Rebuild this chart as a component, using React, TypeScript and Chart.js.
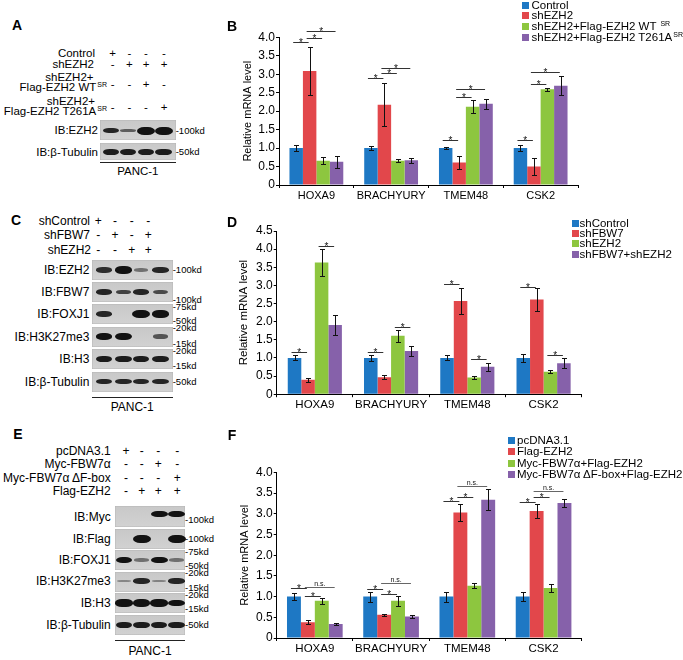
import React, { useEffect, useRef } from 'react';
import { Chart, registerables } from 'chart.js';

Chart.register(...registerables);

const FONT = '"Liberation Sans", Arial, Helvetica, sans-serif';
Chart.defaults.font.family = FONT;

// ---------------- shared ----------------
const GENES = ['HOXA9', 'BRACHYURY', 'TMEM48', 'CSK2'];
const SERIES_COLORS = ['#1e78c4', '#e2474b', '#8dc63f', '#8661aa'];
const Y_TITLE = 'Relative mRNA level';

// ---------------- panel B ----------------
const B_SERIES = ['Control', 'shEZH2', 'shEZH2+Flag-EZH2 WT ', 'shEZH2+Flag-EZH2 T261A'];
const B_SERIES_SUP = ['', '', 'SR', 'SR'];
const B_CONTROL = [1.0, 1.0, 1.0, 1.0];
const B_SHEZH2 = [3.09, 2.17, 0.61, 0.5];
const B_WT = [0.66, 0.66, 2.12, 2.59];
const B_T261A = [0.63, 0.67, 2.2, 2.69];
const B_CONTROL_ERR = [0.09, 0.05, 0.02, 0.09];
const B_SHEZH2_ERR = [0.66, 0.58, 0.18, 0.22];
const B_WT_ERR = [0.1, 0.05, 0.17, 0.05];
const B_T261A_ERR = [0.16, 0.07, 0.13, 0.26];
const B_Y_MAX = 4;
// [gene index, from series, to series, y value, label]
const B_SIG: [number, number, number, number, string][] = [
  [0, 0, 1, 3.86, '*'], [0, 1, 2, 3.98, '*'], [0, 1, 3, 4.17, '*'],
  [1, 0, 1, 2.89, '*'], [1, 1, 2, 3.03, '*'], [1, 1, 3, 3.18, '*'],
  [2, 0, 1, 1.22, '*'], [2, 1, 2, 2.39, '*'], [2, 1, 3, 2.6, '*'],
  [3, 0, 1, 1.22, '*'], [3, 1, 2, 2.74, '*'], [3, 1, 3, 3.05, '*'],
];

// ---------------- panel D ----------------
const D_SERIES = ['shControl', 'shFBW7', 'shEZH2', 'shFBW7+shEZH2'];
const D_SHCONTROL = [1.0, 1.0, 1.0, 1.0];
const D_SHFBW7 = [0.4, 0.47, 2.57, 2.61];
const D_SHEZH2 = [3.63, 1.61, 0.46, 0.62];
const D_COMBO = [1.91, 1.19, 0.76, 0.85];
const D_SHCONTROL_ERR = [0.07, 0.08, 0.07, 0.11];
const D_SHFBW7_ERR = [0.05, 0.05, 0.37, 0.32];
const D_SHEZH2_ERR = [0.37, 0.16, 0.03, 0.04];
const D_COMBO_ERR = [0.27, 0.15, 0.11, 0.14];
const D_Y_MAX = 4.5;
const D_SIG: [number, number, number, number, string][] = [
  [0, 0, 1, 1.15, '*'], [0, 2, 3, 4.09, '*'],
  [1, 0, 1, 1.15, '*'], [1, 2, 3, 1.84, '*'],
  [2, 0, 1, 3.03, '*'], [2, 2, 3, 0.98, '*'],
  [3, 0, 1, 2.96, '*'], [3, 2, 3, 1.07, '*'],
];

// ---------------- panel F ----------------
const F_SERIES = ['pcDNA3.1', 'Flag-EZH2', 'Myc-FBW7α+Flag-EZH2', 'Myc-FBW7α ΔF-box+Flag-EZH2'];
const F_PCDNA = [1.0, 1.0, 1.0, 1.0];
const F_FLAG = [0.38, 0.56, 3.03, 3.07];
const F_MYC = [0.9, 0.9, 1.26, 1.21];
const F_DFBOX = [0.34, 0.52, 3.34, 3.26];
const F_PCDNA_ERR = [0.08, 0.12, 0.12, 0.1];
const F_FLAG_ERR = [0.05, 0.03, 0.2, 0.16];
const F_MYC_ERR = [0.07, 0.12, 0.06, 0.1];
const F_DFBOX_ERR = [0.03, 0.03, 0.26, 0.09];
const F_Y_MAX = 4;
const F_SIG: [number, number, number, number, string][] = [
  [0, 0, 1, 1.2, '*'], [0, 1, 2, 1.01, '*'], [0, 1, 3, 1.24, 'n.s.'],
  [1, 0, 1, 1.18, '*'], [1, 1, 2, 1.06, '*'], [1, 1, 3, 1.33, 'n.s.'],
  [2, 0, 1, 3.32, '*'], [2, 1, 2, 3.41, '*'], [2, 1, 3, 3.68, 'n.s.'],
  [3, 0, 1, 3.29, '*'], [3, 1, 2, 3.4, '*'], [3, 1, 3, 3.54, 'n.s.'],
];

// ---------------- western blots (band intensities per lane) ----------------
const A_EZH2 = [0.6, 0.3, 1.0, 1.0];
const A_TUBULIN = [0.65, 0.65, 0.65, 0.65];

const C_EZH2 = [0.55, 0.9, 0.2, 0.6];
const C_FBW7 = [0.6, 0.45, 0.6, 0.4];
const C_FOXJ1 = [0.6, 0, 1.0, 0.85];
const C_H3K27ME3 = [0.7, 0.9, 0, 0.35];
const C_H3 = [0.65, 0.65, 0.65, 0.65];
const C_TUBULIN = [0.6, 0.6, 0.6, 0.6];

const E_MYC = [0, 0, 0.75, 0.75];
const E_FLAG = [0, 1.0, 0, 1.0];
const E_FOXJ1 = [0.7, 0.2, 0.75, 0.2];
const E_H3K27ME3 = [0.08, 0.6, 0.1, 0.6];
const E_H3 = [0.85, 0.85, 0.85, 0.75];
const E_TUBULIN = [0.65, 0.65, 0.65, 0.65];

// ---------------- helpers ----------------
type Align = 'left' | 'right' | 'center';
function T(props: { x: number; y: number; size?: number; align?: Align; bold?: boolean; children: any }) {
  const { x, y, size = 12, align = 'left', bold = false, children } = props;
  const h = Math.round(size * 1.3);
  const style: any = {
    position: 'absolute', top: y - h / 2, height: h, lineHeight: h + 'px', fontSize: size,
    whiteSpace: 'nowrap', fontWeight: bold ? 'bold' : 'normal', color: '#000',
  };
  if (align === 'left') style.left = x;
  else if (align === 'right') style.right = 683 - x;
  else { style.left = x; style.transform = 'translateX(-50%)'; }
  return <div style={style}>{children}</div>;
}

function Sup({ text }: { text: string }) {
  if (!text) return null;
  return <span style={{ fontSize: 7, position: 'relative', top: -4, marginLeft: 1 }}>{text}</span>;
}

type BlotRow = { label: string; top: number; h: number; y: number; bandY: number; bands: number[]; kd: [string, number][] };
type CondLine = { text: string; sup?: string; right: number; y: number };
type Cond = { lines: CondLine[]; signs: string; signY: number };
type BlotCfg = {
  letter: string; letterX: number; letterY: number;
  conds: Cond[]; signX: number[];
  laneX: number[]; boxL: number; boxR: number; labelR: number;
  rows: BlotRow[]; lineY: number; pancY: number; fs: number;
};

function Blot({ cfg }: { cfg: BlotCfg }) {
  const els: any[] = [];
  els.push(<T key="letter" x={cfg.letterX} y={cfg.letterY} size={14} bold align="center">{cfg.letter}</T>);
  cfg.conds.forEach((c, ci) => {
    c.lines.forEach((l, li) => {
      els.push(
        <T key={`c${ci}-${li}`} x={l.right} y={l.y} size={cfg.fs} align="right">
          {l.text}<Sup text={l.sup || ''} />
        </T>
      );
    });
    c.signs.split('').forEach((s, si) => {
      els.push(<T key={`s${ci}-${si}`} x={cfg.signX[si]} y={c.signY} size={cfg.fs} align="center">{s === '+' ? '+' : '-'}</T>);
    });
  });
  cfg.rows.forEach((r, ri) => {
    els.push(
      <div key={`box${ri}`} style={{
        position: 'absolute', left: cfg.boxL, top: r.top, width: cfg.boxR - cfg.boxL, height: r.h,
        background: 'linear-gradient(#c8c8c8, #d2d2d2)', boxShadow: 'inset 0 0 0 0.5px #b5b5b5',
      }} />
    );
    r.bands.forEach((v, bi) => {
      if (v <= 0) return;
      const w = 14 + 4 * v;
      const hh = 2 + 6 * v;
      els.push(
        <div key={`b${ri}-${bi}`} style={{
          position: 'absolute', left: cfg.laneX[bi] - w / 2, top: r.bandY - hh / 2, width: w, height: hh,
          borderRadius: '40% / 50%', background: `rgba(18,18,18,${Math.min(1, 0.3 + v)})`, filter: 'blur(0.7px)',
        }} />
      );
    });
    els.push(<T key={`l${ri}`} x={cfg.labelR} y={r.y} size={cfg.fs} align="right">{r.label}</T>);
    r.kd.forEach(([t, yy], ki) => {
      els.push(<T key={`k${ri}-${ki}`} x={cfg.boxR} y={yy} size={9.5} align="left">{t}</T>);
    });
  });
  els.push(<div key="line" style={{ position: 'absolute', left: cfg.boxL, top: cfg.lineY, width: cfg.boxR - cfg.boxL, height: 1, background: '#222' }} />);
  els.push(<T key="panc" x={(cfg.boxL + cfg.boxR) / 2} y={cfg.pancY} size={cfg.fs} align="center">PANC-1</T>);
  return <>{els}</>;
}

type ChartCfg = {
  left: number; top: number; w: number; h: number;
  padding: { left: number; right: number; top: number; bottom: number };
  yAxisWidth: number; yMax: number; titleFont: number; xFont: number; catPct: number;
  series: string[]; values: number[][]; errors: number[][];
  sig: [number, number, number, number, string][];
};

function BarChart({ cfg }: { cfg: ChartCfg }) {
  const ref = useRef<HTMLCanvasElement>(null);
  useEffect(() => {
    const errorBars = {
      id: 'errorBars',
      afterDatasetsDraw(chart: any) {
        const { ctx } = chart;
        const ys = chart.scales.y;
        ctx.save();
        ctx.strokeStyle = '#111';
        ctx.lineWidth = 1;
        chart.data.datasets.forEach((ds: any, i: number) => {
          const meta = chart.getDatasetMeta(i);
          meta.data.forEach((bar: any, j: number) => {
            const v = ds.data[j] as number;
            const e = cfg.errors[i][j];
            const x = Math.round(bar.x) + 0.5;
            const yt = Math.round(ys.getPixelForValue(v + e)) + 0.5;
            const yb = Math.round(ys.getPixelForValue(v - e)) + 0.5;
            ctx.beginPath();
            ctx.moveTo(x, yt); ctx.lineTo(x, yb);
            ctx.moveTo(x - 2.5, yt); ctx.lineTo(x + 2.5, yt);
            ctx.moveTo(x - 2.5, yb); ctx.lineTo(x + 2.5, yb);
            ctx.stroke();
          });
        });
        ctx.restore();
      },
    };
    const sigPlugin = {
      id: 'sigMarks',
      afterDatasetsDraw(chart: any) {
        const { ctx } = chart;
        const ys = chart.scales.y;
        ctx.save();
        cfg.sig.forEach(([g, a, b, val, label]) => {
          const xa = chart.getDatasetMeta(a).data[g].x - 3;
          const xb = chart.getDatasetMeta(b).data[g].x - 1;
          const yy = Math.round(ys.getPixelForValue(val)) + 0.5;
          ctx.strokeStyle = label === '*' ? '#333' : '#666';
          ctx.lineWidth = 1;
          ctx.beginPath();
          ctx.moveTo(xa, yy); ctx.lineTo(xb, yy);
          ctx.stroke();
          ctx.fillStyle = '#111';
          ctx.textAlign = 'center';
          ctx.textBaseline = 'alphabetic';
          if (label === '*') {
            ctx.font = `10px ${FONT}`;
            ctx.fillText('*', (xa + xb) / 2, yy + 3.5);
          } else {
            ctx.font = `7px ${FONT}`;
            ctx.fillText(label, (xa + xb) / 2, yy - 1.5);
          }
        });
        ctx.restore();
      },
    };
    const chart = new Chart(ref.current as HTMLCanvasElement, {
      type: 'bar',
      data: {
        labels: GENES,
        datasets: cfg.series.map((s, i) => ({
          label: s,
          data: cfg.values[i],
          backgroundColor: SERIES_COLORS[i],
          borderWidth: 0,
          categoryPercentage: cfg.catPct,
          barPercentage: 1,
        })),
      },
      options: {
        animation: false,
        responsive: false,
        maintainAspectRatio: false,
        devicePixelRatio: 1,
        layout: { padding: cfg.padding },
        plugins: { legend: { display: false }, tooltip: { enabled: false }, title: { display: false } },
        scales: {
          x: {
            grid: { display: true, drawOnChartArea: false, drawTicks: true, tickLength: 3, color: '#000', offset: true },
            border: { display: true, color: '#000', width: 1 },
            ticks: { color: '#000', font: { size: cfg.xFont }, padding: 1, maxRotation: 0, autoSkip: false },
            afterFit: (s: any) => { s.height = 20; },
          },
          y: {
            min: 0,
            max: cfg.yMax,
            grid: { display: true, drawOnChartArea: false, drawTicks: true, tickLength: 3, color: '#000' },
            border: { display: true, color: '#000', width: 1 },
            ticks: {
              stepSize: 0.5, color: '#000', font: { size: 12 }, padding: 1,
              callback: (v: any) => (Number(v) === 0 ? '0' : Number(v).toFixed(1)),
            },
            title: { display: true, text: Y_TITLE, color: '#000', font: { size: cfg.titleFont }, padding: { top: 4, bottom: 0 } },
            afterFit: (s: any) => { s.width = cfg.yAxisWidth; },
          },
        },
      } as any,
      plugins: [errorBars, sigPlugin],
    });
    return () => chart.destroy();
  }, []);
  return (
    <canvas
      ref={ref}
      width={cfg.w}
      height={cfg.h}
      style={{ position: 'absolute', left: cfg.left, top: cfg.top, width: cfg.w, height: cfg.h }}
    />
  );
}

function Legend(props: { names: string[]; sups?: string[]; sqLeft: number; textLeft: number; ys: number[]; size: number }) {
  const { names, sups, sqLeft, textLeft, ys, size } = props;
  return (
    <>
      {names.map((n, i) => (
        <React.Fragment key={i}>
          <div style={{ position: 'absolute', left: sqLeft, top: ys[i] - 3.5, width: 7, height: 7, background: SERIES_COLORS[i] }} />
          <T x={textLeft} y={ys[i]} size={size}>{n}<Sup text={sups ? sups[i] : ''} /></T>
        </React.Fragment>
      ))}
    </>
  );
}

// ---------------- layouts ----------------
const CHART_B: ChartCfg = {
  left: 230, top: 0, w: 453, h: 205,
  padding: { left: 7.4, right: 105, top: 37.3, bottom: 0 },
  yAxisWidth: 41.6, yMax: B_Y_MAX, titleFont: 11, xFont: 11, catPct: 0.72,
  series: B_SERIES,
  values: [B_CONTROL, B_SHEZH2, B_WT, B_T261A],
  errors: [B_CONTROL_ERR, B_SHEZH2_ERR, B_WT_ERR, B_T261A_ERR],
  sig: B_SIG,
};
const CHART_D: ChartCfg = {
  left: 230, top: 205, w: 453, h: 215,
  padding: { left: 3.1, right: 101.3, top: 26, bottom: 5.8 },
  yAxisWidth: 43.6, yMax: D_Y_MAX, titleFont: 11.5, xFont: 11.5, catPct: 0.71,
  series: D_SERIES,
  values: [D_SHCONTROL, D_SHFBW7, D_SHEZH2, D_COMBO],
  errors: [D_SHCONTROL_ERR, D_SHFBW7_ERR, D_SHEZH2_ERR, D_COMBO_ERR],
  sig: D_SIG,
};
const CHART_F: ChartCfg = {
  left: 230, top: 420, w: 453, h: 240,
  padding: { left: 3.9, right: 101.3, top: 52.4, bottom: 2 },
  yAxisWidth: 42.8, yMax: F_Y_MAX, titleFont: 11, xFont: 11.5, catPct: 0.73,
  series: F_SERIES,
  values: [F_PCDNA, F_FLAG, F_MYC, F_DFBOX],
  errors: [F_PCDNA_ERR, F_FLAG_ERR, F_MYC_ERR, F_DFBOX_ERR],
  sig: F_SIG,
};

const BLOT_A: BlotCfg = {
  letter: 'A', letterX: 17, letterY: 25, fs: 11.5,
  signX: [112.7, 129.3, 146, 164],
  conds: [
    { lines: [{ text: 'Control', right: 95, y: 53.3 }], signs: '+---', signY: 53.3 },
    { lines: [{ text: 'shEZH2', right: 94, y: 64.5 }], signs: '-+++', signY: 64.5 },
    { lines: [{ text: 'shEZH2+', right: 93.5, y: 77 }, { text: 'Flag-EZH2 WT', sup: 'SR', right: 107, y: 87 }], signs: '--+-', signY: 84.5 },
    { lines: [{ text: 'shEZH2+', right: 95, y: 101 }, { text: 'Flag-EZH2 T261A', sup: 'SR', right: 107, y: 111.5 }], signs: '---+', signY: 107.5 },
  ],
  laneX: [111, 128, 146, 163.5], boxL: 100, boxR: 175.7, labelR: 98,
  rows: [
    { label: 'IB:EZH2', top: 120, h: 20, y: 130.5, bandY: 130.5, bands: A_EZH2, kd: [['-100kd', 130.5]] },
    { label: 'IB:β-Tubulin', top: 142.5, h: 17.5, y: 152, bandY: 152, bands: A_TUBULIN, kd: [['-50kd', 152]] },
  ],
  lineY: 161.7, pancY: 171,
};

const BLOT_C: BlotCfg = {
  letter: 'C', letterX: 16, letterY: 220, fs: 12,
  signX: [98.3, 115, 131.7, 148.3],
  conds: [
    { lines: [{ text: 'shControl', right: 90, y: 220.7 }], signs: '+---', signY: 220.7 },
    { lines: [{ text: 'shFBW7', right: 90, y: 235 }], signs: '-+-+', signY: 235 },
    { lines: [{ text: 'shEZH2', right: 91, y: 249.5 }], signs: '--++', signY: 249.5 },
  ],
  laneX: [104, 123.5, 141, 160.5], boxL: 91.7, boxR: 172.7, labelR: 89.3,
  rows: [
    { label: 'IB:EZH2', top: 260, h: 20, y: 270, bandY: 270, bands: C_EZH2, kd: [['-100kd', 270]] },
    { label: 'IB:FBW7', top: 282, h: 20, y: 292, bandY: 292, bands: C_FBW7, kd: [['-100kd', 299.5]] },
    { label: 'IB:FOXJ1', top: 304.3, h: 20, y: 314, bandY: 314, bands: C_FOXJ1, kd: [['-75kd', 306.7], ['-50kd', 321]] },
    { label: 'IB:H3K27me3', top: 326.6, h: 20, y: 336.5, bandY: 336.5, bands: C_H3K27ME3, kd: [['-20kd', 328.3], ['-15kd', 344]] },
    { label: 'IB:H3', top: 349, h: 20, y: 359, bandY: 359, bands: C_H3, kd: [['-20kd', 350.7], ['-15kd', 365.5]] },
    { label: 'IB:β-Tubulin', top: 371.5, h: 20, y: 381.5, bandY: 381.5, bands: C_TUBULIN, kd: [['-50kd', 381.5]] },
  ],
  lineY: 397, pancY: 406.5,
};

const BLOT_E: BlotCfg = {
  letter: 'E', letterX: 18, letterY: 434, fs: 12,
  signX: [126, 141.7, 158.3, 177.3],
  conds: [
    { lines: [{ text: 'pcDNA3.1', right: 110.7, y: 451 }], signs: '+---', signY: 451 },
    { lines: [{ text: 'Myc-FBW7α', right: 110.7, y: 464 }], signs: '--+-', signY: 464 },
    { lines: [{ text: 'Myc-FBW7α ΔF-box', right: 110.7, y: 477.5 }], signs: '---+', signY: 477.5 },
    { lines: [{ text: 'Flag-EZH2', right: 110.7, y: 490.5 }], signs: '-+++', signY: 490.5 },
  ],
  laneX: [124, 141.5, 159, 176.5], boxL: 115, boxR: 185, labelR: 110.7,
  rows: [
    { label: 'IB:Myc', top: 506, h: 21, y: 516.5, bandY: 514, bands: E_MYC, kd: [['-100kd', 520]] },
    { label: 'IB:Flag', top: 528.5, h: 20, y: 538.5, bandY: 538.5, bands: E_FLAG, kd: [['-100kd', 538.5]] },
    { label: 'IB:FOXJ1', top: 550, h: 20, y: 560, bandY: 560, bands: E_FOXJ1, kd: [['-75kd', 551.5], ['-50kd', 566]] },
    { label: 'IB:H3K27me3', top: 571.5, h: 20, y: 581, bandY: 581, bands: E_H3K27ME3, kd: [['-20kd', 573], ['-15kd', 588]] },
    { label: 'IB:H3', top: 593, h: 20, y: 603, bandY: 603, bands: E_H3, kd: [['-20kd', 594.5], ['-15kd', 609]] },
    { label: 'IB:β-Tubulin', top: 615, h: 20, y: 625, bandY: 625, bands: E_TUBULIN, kd: [['-50kd', 625]] },
  ],
  lineY: 640, pancY: 651,
};

export default function App() {
  return (
    <div style={{
      position: 'absolute', left: 0, top: 0, width: 683, height: 660, background: '#fff',
      fontFamily: FONT, color: '#000', overflow: 'hidden',
    }}>
      <Blot cfg={BLOT_A} />
      <Blot cfg={BLOT_C} />
      <Blot cfg={BLOT_E} />

      <BarChart cfg={CHART_B} />
      <BarChart cfg={CHART_D} />
      <BarChart cfg={CHART_F} />

      <T x={232} y={26} size={14} bold align="center">B</T>
      <T x={232} y={222} size={14} bold align="center">D</T>
      <T x={232} y={435} size={14} bold align="center">F</T>

      <Legend names={B_SERIES} sups={B_SERIES_SUP} sqLeft={522} textLeft={531.5} ys={[5, 15.7, 26.4, 37.1]} size={11.5} />
      <Legend names={D_SERIES} sqLeft={572} textLeft={579.5} ys={[223, 233.3, 243.6, 254]} size={11.5} />
      <Legend names={F_SERIES} sqLeft={508} textLeft={517} ys={[440, 451.5, 463, 474.5]} size={11.5} />
    </div>
  );
}
